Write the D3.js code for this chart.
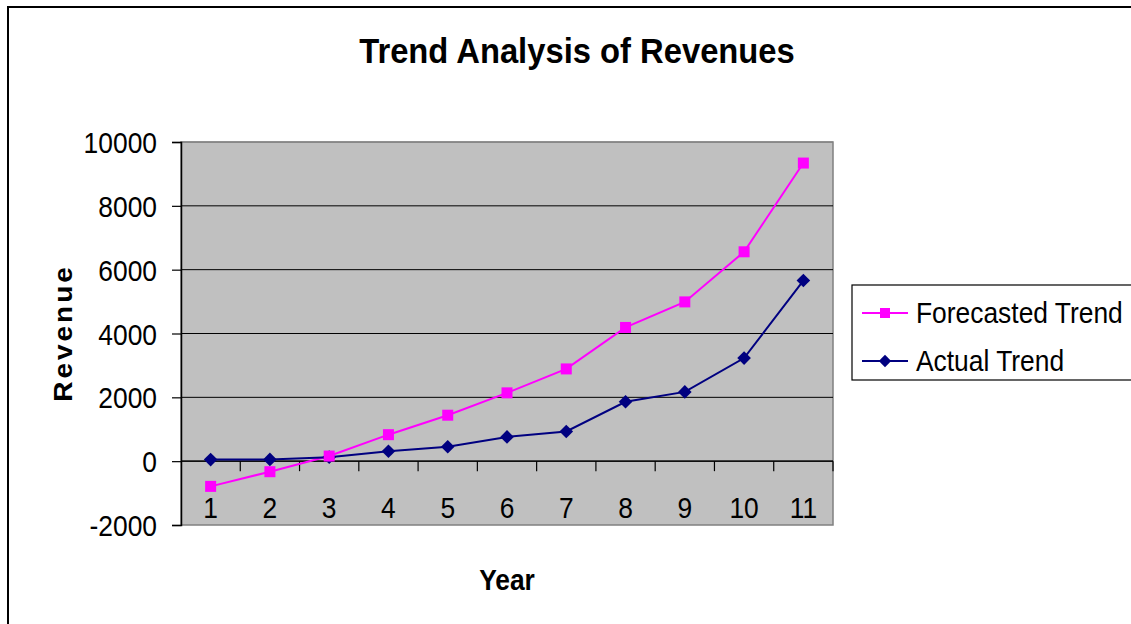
<!DOCTYPE html>
<html>
<head>
<meta charset="utf-8">
<script src="https://cdn.jsdelivr.net/npm/d3@7"></script>
<style>
  html, body { margin: 0; padding: 0; background: #fff; }
  svg { display: block; font-family: "Liberation Sans", Arial, sans-serif; }
</style>
</head>
<body>
<svg id="chart" width="1131" height="624"></svg>
<script>
const years = ["1","2","3","4","5","6","7","8","9","10","11"];
const forecasted = [-790, -330, 160, 830, 1440, 2140, 2890, 4190, 4990, 6560, 9340];
const actual = [50, 55, 125, 310, 450, 760, 930, 1860, 2170, 3230, 5660];
const yTicks = [-2000, 0, 2000, 4000, 6000, 8000, 10000];
const seriesNames = ["Forecasted Trend", "Actual Trend"];
const seriesColors = ["#FF00FF", "#000080"];
const titleText = "Trend Analysis of Revenues";
const xTitle = "Year";
const yTitle = "Revenue";

const svg = d3.select("#chart");
const SX = 0.91; // horizontal text squeeze
const plot = {left: 181, right: 833, top: 142, bottom: 525};

// outer border
svg.append("rect").attr("x", 8).attr("y", 7).attr("width", 1200).attr("height", 700)
  .attr("fill", "#fff").attr("stroke", "#000").attr("stroke-width", 2);

const x = d3.scaleBand().domain(years).range([plot.left, plot.right]).padding(0);
const y = d3.scaleLinear().domain([-2000, 10000]).range([plot.bottom, plot.top]);

// plot background
svg.append("rect").attr("x", plot.left).attr("y", plot.top)
  .attr("width", plot.right - plot.left).attr("height", plot.bottom - plot.top)
  .attr("fill", "#C0C0C0").attr("stroke", "#808080").attr("stroke-width", 1.5);

// gridlines
svg.append("g").selectAll("line").data(yTicks.filter(d => d > -2000)).join("line")
  .attr("x1", plot.left).attr("x2", plot.right)
  .attr("y1", d => y(d)).attr("y2", d => y(d))
  .attr("stroke", d => d === 10000 ? "#808080" : "#000").attr("stroke-width", 1);

// y axis
const yAxis = svg.append("g").attr("transform", `translate(${plot.left},0)`)
  .call(d3.axisLeft(y).tickValues(yTicks).tickSize(9).tickFormat(d3.format("d")));
yAxis.select(".domain").attr("stroke", "#000").attr("stroke-width", 1.5);
yAxis.selectAll(".tick line").attr("stroke", "#000").attr("stroke-width", 1.2);
yAxis.selectAll(".tick text").remove();
yAxis.selectAll(".tick").append("g")
  .attr("transform", `translate(-24,10.5) scale(${SX},1)`)
  .append("text").attr("text-anchor", "end")
  .attr("font-size", 29).attr("fill", "#000").text(d => d);

// x axis at zero
const xAxis = svg.append("g").attr("transform", `translate(0,${y(0)})`);
xAxis.append("line").attr("x1", plot.left).attr("x2", plot.right)
  .attr("stroke", "#000").attr("stroke-width", 1.2);
xAxis.selectAll("line.tk").data(years).join("line").attr("class", "tk")
  .attr("x1", d => x(d) + x.bandwidth()).attr("x2", d => x(d) + x.bandwidth())
  .attr("y1", 0).attr("y2", 10).attr("stroke", "#000").attr("stroke-width", 1.2);
xAxis.selectAll("g.lbl").data(years).join("g").attr("class", "lbl")
  .attr("transform", d => `translate(${x(d) + x.bandwidth() / 2},${518 - y(0)}) scale(${SX},1)`)
  .append("text").attr("text-anchor", "middle").attr("font-size", 29).attr("fill", "#000")
  .text(d => d);

// lines
const line = d3.line().x((d, i) => x(years[i]) + x.bandwidth() / 2).y(d => y(d));
const allSeries = [forecasted, actual];
allSeries.forEach((vals, si) => {
  svg.append("path").datum(vals).attr("d", line).attr("fill", "none")
    .attr("stroke", seriesColors[si]).attr("stroke-width", 2);
});

function marker(sel, si, size) {
  if (si === 0) {
    sel.append("rect").attr("x", -size / 2).attr("y", -size / 2).attr("width", size).attr("height", size)
      .attr("fill", seriesColors[0]);
  } else {
    const s = size * 0.62;
    sel.append("path").attr("d", `M0,${-s}L${s},0L0,${s}L${-s},0Z`).attr("fill", seriesColors[1]);
  }
}
// draw actual markers first then forecast on top
[1, 0].forEach(si => {
  allSeries[si].forEach((v, i) => {
    const g = svg.append("g").attr("transform", `translate(${x(years[i]) + x.bandwidth() / 2},${y(v)})`);
    marker(g, si, 11);
  });
});

// title
svg.append("g").attr("transform", `translate(577,63) scale(${SX},1)`)
  .append("text").attr("text-anchor", "middle").attr("font-size", 36).attr("font-weight", "bold")
  .attr("fill", "#000").text(titleText);

// x title
svg.append("g").attr("transform", `translate(507,590) scale(${SX},1)`)
  .append("text").attr("text-anchor", "middle").attr("font-size", 29).attr("font-weight", "bold")
  .attr("fill", "#000").text(xTitle);

// y title
svg.append("g").attr("transform", `translate(72,333) rotate(-90) scale(1,${SX})`)
  .append("text").attr("text-anchor", "middle").attr("font-size", 28).attr("font-weight", "bold")
  .attr("letter-spacing", 3).attr("fill", "#000").text(yTitle);

// legend
const lg = svg.append("g");
lg.append("rect").attr("x", 852).attr("y", 285).attr("width", 300).attr("height", 95)
  .attr("fill", "#fff").attr("stroke", "#000").attr("stroke-width", 1.2);
const legendY = [313, 361];
seriesNames.forEach((name, si) => {
  const row = lg.append("g").attr("transform", `translate(0,${legendY[si]})`);
  row.append("line").attr("x1", 862).attr("x2", 908).attr("stroke", seriesColors[si]).attr("stroke-width", 2);
  marker(row.append("g").attr("transform", "translate(885,0)"), si, 10);
  row.append("g").attr("transform", `translate(916,10) scale(${SX},1)`)
    .append("text").attr("font-size", 29).attr("fill", "#000").text(name);
});
</script>
</body>
</html>
